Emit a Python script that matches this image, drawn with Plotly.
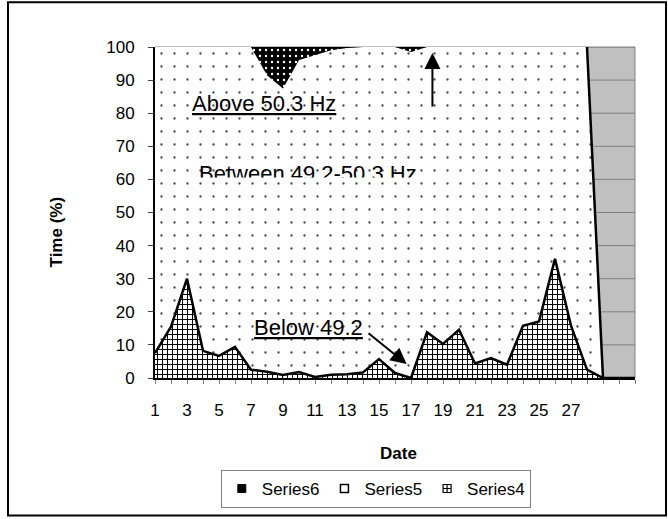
import plotly.graph_objects as go

# ---------------- data ----------------
dates = list(range(1, 32))
date_labels = ["1", "", "3", "", "5", "", "7", "", "9", "", "11", "", "13", "", "15", "",
               "17", "", "19", "", "21", "", "23", "", "25", "", "27", "", "", "", ""]

# Series4: time below 49.2 Hz (%)
series4 = [7.5, 15.5, 30.0, 8.2, 6.7, 9.4, 2.5, 1.9, 0.9, 1.8, 0.3, 1.0, 1.1, 1.7, 5.7, 1.5,
           0.0, 13.8, 10.3, 14.6, 4.4, 6.0, 4.0, 15.8, 17.1, 36.0, 15.8, 2.5, 0.0, 0.0, 0.0]
# Series5: time between 49.2-50.3 Hz (%)
series5 = [92.5, 84.5, 70.0, 91.8, 93.3, 90.6, 97.5, 89.6, 86.6, 94.3, 97.3, 98.0, 98.6, 98.3,
           94.3, 98.5, 98.5, 86.2, 89.7, 85.4, 95.6, 94.0, 96.0, 84.2, 82.9, 64.0, 84.2, 97.5,
           0.0, 0.0, 0.0]
# Series6: time above 50.3 Hz (%)
series6 = [0.0, 0.0, 0.0, 0.0, 0.0, 0.0, 0.0, 8.5, 12.5, 3.9, 2.4, 1.0, 0.3, 0.0, 0.0, 0.0,
           1.5, 0.0, 0.0, 0.0, 0.0, 0.0, 0.0, 0.0, 0.0, 0.0, 0.0, 0.0, 0.0, 0.0, 0.0]

y_ticks = list(range(0, 101, 10))

FONT = "Liberation Sans, Arial, sans-serif"

fig = go.Figure()

fig.add_trace(go.Scatter(
    x=dates, y=series4, name="Series4", stackgroup="s", mode="lines",
    line=dict(color="black", width=2.5),
    fillpattern=dict(shape="+", bgcolor="white", fgcolor="black", size=5,
                     solidity=0.36, fillmode="replace"),
    showlegend=False, hoverinfo="skip"))
fig.add_trace(go.Scatter(
    x=dates, y=series5, name="Series5", stackgroup="s", mode="lines",
    line=dict(color="rgba(0,0,0,0)", width=0),
    fillpattern=dict(shape=".", bgcolor="white", fgcolor="#444444", size=13,
                     solidity=0.025, fillmode="replace"),
    showlegend=False, hoverinfo="skip"))
fig.add_trace(go.Scatter(
    x=dates, y=series6, name="Series6", stackgroup="s", mode="lines",
    line=dict(color="rgba(0,0,0,0)", width=0),
    fillpattern=dict(shape=".", bgcolor="black", fgcolor="white", size=6,
                     solidity=0.12, fillmode="replace"),
    showlegend=False, hoverinfo="skip"))

# outline where the stacked total drops off after the last day of data
totals = [a + b + c for a, b, c in zip(series4, series5, series6)]
fig.add_trace(go.Scatter(
    x=dates[27:29], y=totals[27:29], mode="lines",
    line=dict(color="black", width=2.5), showlegend=False, hoverinfo="skip"))

# clipped label (top part visible only) in an overlapping subplot
fig.add_trace(go.Scatter(
    x=[3.75], y=[61.2], mode="text", text=["Between 49.2-50.3 Hz"],
    textposition="middle right", textfont=dict(size=22, color="black", family=FONT),
    cliponaxis=True, xaxis="x2", yaxis="y2", showlegend=False, hoverinfo="skip"))

# legend entries
fig.add_trace(go.Scatter(x=[None], y=[None], mode="markers", name="Series6",
                         marker=dict(symbol="square", size=8, color="black",
                                     line=dict(color="black", width=1)),
                         xaxis="x2", yaxis="y2"))
fig.add_trace(go.Scatter(x=[None], y=[None], mode="markers", name="Series5",
                         marker=dict(symbol="square", size=8, color="white",
                                     line=dict(color="black", width=1.5)),
                         xaxis="x2", yaxis="y2"))
fig.add_trace(go.Scatter(x=[None], y=[None], mode="markers", name="Series4",
                         marker=dict(symbol="square-cross", size=8, color="white",
                                     line=dict(color="black", width=1.2)),
                         xaxis="x2", yaxis="y2"))

clip_frac = (379 - 178) / 332.0

grid_shapes = [
    dict(type="line", xref="x domain", yref="y", x0=0, x1=1, y0=v, y1=v,
         line=dict(color="#808080", width=1), layer="below")
    for v in y_ticks[1:]
]

fig.update_layout(
    width=668, height=519, autosize=False,
    margin=dict(l=155, r=33, t=47, b=140, pad=0),
    paper_bgcolor="white", plot_bgcolor="rgba(0,0,0,0)",
    font=dict(family=FONT, size=17, color="black"),
    xaxis=dict(range=[1, 31], domain=[0, 1], tickmode="array", tickvals=dates,
               ticktext=date_labels, ticks="outside", ticklen=4, tickcolor="#808080",
               tickwidth=1, showline=True, linecolor="black", linewidth=2,
               showgrid=False, zeroline=False, ticklabelstandoff=12,
               tickfont=dict(size=17)),
    yaxis=dict(range=[0, 100], tickmode="array", tickvals=y_ticks, ticks="outside",
               ticklen=5, tickcolor="#404040", tickwidth=1, showline=True,
               linecolor="black", linewidth=2, showgrid=False,
               zeroline=False, ticklabelstandoff=10,
               tickfont=dict(size=17)),
    xaxis2=dict(range=[1, 31], domain=[0, 1], anchor="y2", visible=False),
    yaxis2=dict(range=[clip_frac * 100, 100], domain=[clip_frac, 1], anchor="x2",
                visible=False),
    showlegend=True,
    legend=dict(orientation="h", x=0.46, xanchor="center", y=-0.274, yanchor="top",
                bordercolor="#808080", borderwidth=1, bgcolor="white",
                font=dict(size=17), traceorder="normal", itemwidth=30),
    shapes=[
        dict(type="rect", xref="x domain", yref="y domain", x0=0, x1=1, y0=0, y1=1,
             fillcolor="#C0C0C0", line=dict(color="#808080", width=1), layer="below"),
    ] + grid_shapes + [
        dict(type="rect", xref="paper", yref="paper",
             x0=(8 - 155) / 480.0, x1=(666 - 155) / 480.0,
             y0=(379 - 517) / 332.0, y1=(379 - 2) / 332.0,
             line=dict(color="black", width=2), fillcolor="rgba(0,0,0,0)"),
    ],
    annotations=[
        dict(x=3.19, y=83.0, xref="x", yref="y", text="<u>Above 50.3 Hz</u>",
             showarrow=False, xanchor="left", yanchor="middle",
             font=dict(size=22, color="black", family=FONT)),
        dict(x=7.06, y=15.15, xref="x", yref="y", text="<u>Below 49.2</u>",
             showarrow=False, xanchor="left", yanchor="middle",
             font=dict(size=22, color="black", family=FONT)),
        dict(x=18.34, y=98.2, ax=18.34, ay=81.6, xref="x", yref="y", axref="x", ayref="y",
             text="", showarrow=True, arrowhead=2, arrowsize=1.6, arrowwidth=2,
             arrowcolor="black"),
        dict(x=16.73, y=4.2, ax=14.25, ay=13.9, xref="x", yref="y", axref="x", ayref="y",
             text="", showarrow=True, arrowhead=2, arrowsize=1.6, arrowwidth=2,
             arrowcolor="black"),
        dict(x=(398 - 155) / 480.0, y=(379 - 455) / 332.0, xref="paper", yref="paper",
             text="<b>Date</b>", showarrow=False, xanchor="center", yanchor="middle",
             font=dict(size=17, color="black", family=FONT)),
        dict(x=(56 - 155) / 480.0, y=(379 - 233) / 332.0, xref="paper", yref="paper",
             text="<b>Time (%)</b>", showarrow=False, xanchor="center", yanchor="middle",
             textangle=-90, font=dict(size=17, color="black", family=FONT)),
    ],
)

fig.write_html("out.html", config={"displayModeBar": False},
               post_script="document.body.style.margin='0px';")
